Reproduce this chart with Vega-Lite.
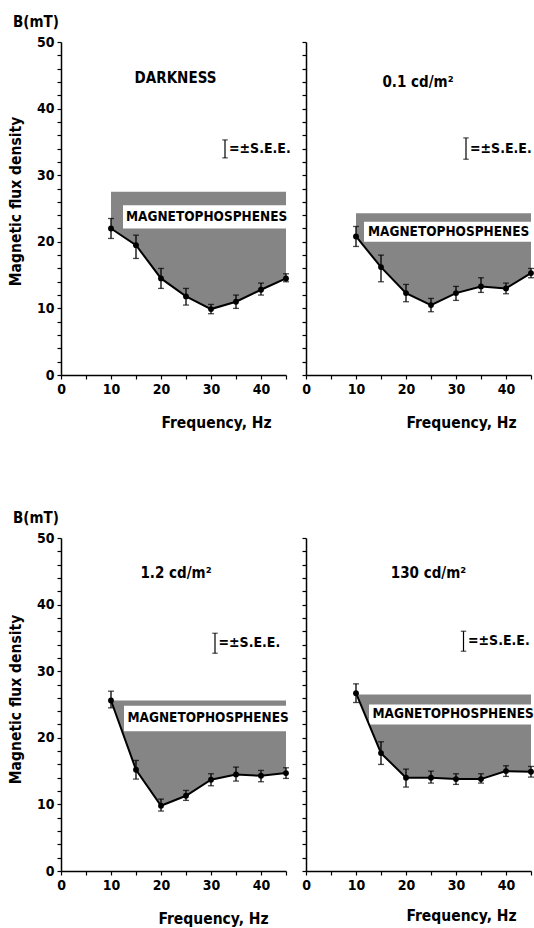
{
  "$schema": "https://vega.github.io/schema/vega-lite/v6.json",
  "background": "white",
  "padding": {"left": 8, "top": 15, "right": 0, "bottom": 0},
  "columns": 2,
  "spacing": {"row": 163, "column": 20},
  "bounds": "flush",
  "datasets": {
    "p1": [
      {"f": 10, "b": 22.0, "lo": 20.5, "hi": 23.5},
      {"f": 15, "b": 19.5, "lo": 17.5, "hi": 21.0},
      {"f": 20, "b": 14.5, "lo": 13.0, "hi": 16.0},
      {"f": 25, "b": 11.8, "lo": 10.5, "hi": 13.0},
      {"f": 30, "b": 9.9, "lo": 9.2, "hi": 10.6},
      {"f": 35, "b": 11.0, "lo": 10.0, "hi": 12.0},
      {"f": 40, "b": 12.8, "lo": 12.0, "hi": 13.8},
      {"f": 45, "b": 14.5, "lo": 14.0, "hi": 15.2}
    ],
    "p2": [
      {"f": 10, "b": 20.8, "lo": 19.3, "hi": 22.3},
      {"f": 15, "b": 16.2, "lo": 14.0, "hi": 18.0},
      {"f": 20, "b": 12.3, "lo": 11.0, "hi": 13.6},
      {"f": 25, "b": 10.5, "lo": 9.5, "hi": 11.5},
      {"f": 30, "b": 12.3, "lo": 11.2, "hi": 13.3},
      {"f": 35, "b": 13.3, "lo": 12.4, "hi": 14.6},
      {"f": 40, "b": 13.0, "lo": 12.2, "hi": 13.8},
      {"f": 45, "b": 15.3, "lo": 14.6, "hi": 16.0}
    ],
    "p3": [
      {"f": 10, "b": 25.6, "lo": 24.5, "hi": 27.0},
      {"f": 15, "b": 15.2, "lo": 13.8, "hi": 16.6},
      {"f": 20, "b": 9.8, "lo": 9.0, "hi": 10.8},
      {"f": 25, "b": 11.3, "lo": 10.6, "hi": 12.1},
      {"f": 30, "b": 13.7, "lo": 12.8, "hi": 14.6},
      {"f": 35, "b": 14.5, "lo": 13.5, "hi": 15.6},
      {"f": 40, "b": 14.3, "lo": 13.4, "hi": 15.1},
      {"f": 45, "b": 14.7, "lo": 13.9, "hi": 15.5}
    ],
    "p4": [
      {"f": 10, "b": 26.7, "lo": 25.3, "hi": 28.1},
      {"f": 15, "b": 17.7, "lo": 16.0, "hi": 19.4},
      {"f": 20, "b": 14.0, "lo": 12.6, "hi": 15.3},
      {"f": 25, "b": 14.0, "lo": 13.2, "hi": 15.0},
      {"f": 30, "b": 13.8, "lo": 13.0, "hi": 14.6},
      {"f": 35, "b": 13.8, "lo": 13.2, "hi": 14.6},
      {"f": 40, "b": 15.0, "lo": 14.2, "hi": 15.8},
      {"f": 45, "b": 14.9, "lo": 14.1, "hi": 15.7}
    ],
    "one": [{}]
  },
  "concat": [
    {
      "width": 225, "height": 333,
      "title": {"text": "B(mT)", "anchor": "start", "frame": "group", "dx": -48, "offset": 5},
      "data": {"name": "p1"},
      "resolve": {"axis": {"x": "independent", "y": "independent"}},
      "layer": [
        {"mark": {"type": "area", "color": "#858585", "opacity": 1},
         "encoding": {
           "x": {"field": "f", "type": "quantitative", "scale": {"domain": [0, 45], "nice": false},
                 "axis": {"values": [0,5,10,15,20,25,30,35,40,45], "labelExpr": "datum.value % 10 === 0 ? datum.label : ''", "title": "Frequency, Hz", "titleX": 155, "titlePadding": 19}},
           "y": {"field": "b", "type": "quantitative", "scale": {"domain": [0, 50], "nice": false},
                 "axis": {"values": [0,2,4,6,8,10,12,14,16,18,20,22,24,26,28,30,32,34,36,38,40,42,44,46,48,50], "labelExpr": "datum.value % 10 === 0 ? datum.label : ''", "title": "Magnetic flux density", "titlePadding": 13, "titleY": 159}},
           "y2": {"datum": 27.5}}},
        {"data": {"name": "one"}, "mark": {"type": "rect", "color": "white"},
         "encoding": {"x": {"datum": 12.4, "axis": null}, "x2": {"datum": 45}, "y": {"datum": 22, "axis": null}, "y2": {"datum": 25.5}}},
        {"data": {"name": "one"}, "mark": {"type": "text", "align": "left", "baseline": "middle", "fontSize": 13.5, "text": "MAGNETOPHOSPHENES"},
         "encoding": {"x": {"datum": 13, "axis": null}, "y": {"datum": 23.7, "axis": null}}},
        {"mark": {"type": "line", "color": "black", "strokeWidth": 2},
         "encoding": {"x": {"field": "f", "type": "quantitative", "axis": null}, "y": {"field": "b", "type": "quantitative", "axis": null}}},
        {"mark": {"type": "errorbar", "ticks": {"size": 6}, "color": "black", "thickness": 1.3},
         "encoding": {"x": {"field": "f", "type": "quantitative", "axis": null}, "y": {"field": "lo", "type": "quantitative", "axis": null}, "y2": {"field": "hi"}}},
        {"mark": {"type": "point", "filled": true, "color": "black", "size": 34, "opacity": 1},
         "encoding": {"x": {"field": "f", "type": "quantitative", "axis": null}, "y": {"field": "b", "type": "quantitative", "axis": null}}},
        {"data": {"name": "one"}, "mark": {"type": "text", "align": "center", "baseline": "middle", "fontSize": 15, "text": "DARKNESS"},
         "encoding": {"x": {"datum": 22.9, "axis": null}, "y": {"datum": 44.6, "axis": null}}},
        {"data": {"name": "one"}, "mark": {"type": "rule", "color": "black", "strokeWidth": 1.2},
         "encoding": {"x": {"datum": 32.8, "axis": null}, "y": {"datum": 32.6, "axis": null}, "y2": {"datum": 35.3}}},
        {"data": {"name": "one"}, "mark": {"type": "point", "shape": "M-1,0L1,0", "size": 30, "color": "black", "strokeWidth": 1.2},
         "encoding": {"x": {"datum": 32.8, "axis": null}, "y": {"datum": 32.6, "axis": null}}},
        {"data": {"name": "one"}, "mark": {"type": "point", "shape": "M-1,0L1,0", "size": 30, "color": "black", "strokeWidth": 1.2},
         "encoding": {"x": {"datum": 32.8, "axis": null}, "y": {"datum": 35.3, "axis": null}}},
        {"data": {"name": "one"}, "mark": {"type": "text", "align": "left", "baseline": "middle", "fontSize": 14, "text": "=±S.E.E."},
         "encoding": {"x": {"datum": 33.6, "axis": null}, "y": {"datum": 34, "axis": null}}}
      ]
    },
    {
      "width": 225, "height": 333,
      "data": {"name": "p2"},
      "resolve": {"axis": {"x": "independent", "y": "independent"}},
      "layer": [
        {"mark": {"type": "area", "color": "#858585", "opacity": 1},
         "encoding": {
           "x": {"field": "f", "type": "quantitative", "scale": {"domain": [0, 45], "nice": false},
                 "axis": {"values": [0,5,10,15,20,25,30,35,40,45], "labelExpr": "datum.value % 10 === 0 ? datum.label : ''", "title": "Frequency, Hz", "titleX": 155, "titlePadding": 19}},
           "y": {"field": "b", "type": "quantitative", "scale": {"domain": [0, 50], "nice": false},
                 "axis": {"values": [0,2,4,6,8,10,12,14,16,18,20,22,24,26,28,30,32,34,36,38,40,42,44,46,48,50], "labels": false, "title": null}},
           "y2": {"datum": 24.3}}},
        {"data": {"name": "one"}, "mark": {"type": "rect", "color": "white"},
         "encoding": {"x": {"datum": 11.6, "axis": null}, "x2": {"datum": 45}, "y": {"datum": 20, "axis": null}, "y2": {"datum": 23}}},
        {"data": {"name": "one"}, "mark": {"type": "text", "align": "left", "baseline": "middle", "fontSize": 13.5, "text": "MAGNETOPHOSPHENES"},
         "encoding": {"x": {"datum": 12.4, "axis": null}, "y": {"datum": 21.5, "axis": null}}},
        {"mark": {"type": "line", "color": "black", "strokeWidth": 2},
         "encoding": {"x": {"field": "f", "type": "quantitative", "axis": null}, "y": {"field": "b", "type": "quantitative", "axis": null}}},
        {"mark": {"type": "errorbar", "ticks": {"size": 6}, "color": "black", "thickness": 1.3},
         "encoding": {"x": {"field": "f", "type": "quantitative", "axis": null}, "y": {"field": "lo", "type": "quantitative", "axis": null}, "y2": {"field": "hi"}}},
        {"mark": {"type": "point", "filled": true, "color": "black", "size": 34, "opacity": 1},
         "encoding": {"x": {"field": "f", "type": "quantitative", "axis": null}, "y": {"field": "b", "type": "quantitative", "axis": null}}},
        {"data": {"name": "one"}, "mark": {"type": "text", "align": "center", "baseline": "middle", "fontSize": 15, "text": "0.1 cd/m²"},
         "encoding": {"x": {"datum": 22.4, "axis": null}, "y": {"datum": 44, "axis": null}}},
        {"data": {"name": "one"}, "mark": {"type": "rule", "color": "black", "strokeWidth": 1.2},
         "encoding": {"x": {"datum": 32, "axis": null}, "y": {"datum": 32.4, "axis": null}, "y2": {"datum": 35.6}}},
        {"data": {"name": "one"}, "mark": {"type": "point", "shape": "M-1,0L1,0", "size": 30, "color": "black", "strokeWidth": 1.2},
         "encoding": {"x": {"datum": 32, "axis": null}, "y": {"datum": 32.4, "axis": null}}},
        {"data": {"name": "one"}, "mark": {"type": "point", "shape": "M-1,0L1,0", "size": 30, "color": "black", "strokeWidth": 1.2},
         "encoding": {"x": {"datum": 32, "axis": null}, "y": {"datum": 35.6, "axis": null}}},
        {"data": {"name": "one"}, "mark": {"type": "text", "align": "left", "baseline": "middle", "fontSize": 14, "text": "=±S.E.E."},
         "encoding": {"x": {"datum": 32.8, "axis": null}, "y": {"datum": 34, "axis": null}}}
      ]
    },
    {
      "width": 225, "height": 333,
      "title": {"text": "B(mT)", "anchor": "start", "frame": "group", "dx": -48, "offset": 5},
      "data": {"name": "p3"},
      "resolve": {"axis": {"x": "independent", "y": "independent"}},
      "layer": [
        {"mark": {"type": "area", "color": "#858585", "opacity": 1},
         "encoding": {
           "x": {"field": "f", "type": "quantitative", "scale": {"domain": [0, 45], "nice": false},
                 "axis": {"values": [0,5,10,15,20,25,30,35,40,45], "labelExpr": "datum.value % 10 === 0 ? datum.label : ''", "title": "Frequency, Hz", "titleX": 152, "titlePadding": 19}},
           "y": {"field": "b", "type": "quantitative", "scale": {"domain": [0, 50], "nice": false},
                 "axis": {"values": [0,2,4,6,8,10,12,14,16,18,20,22,24,26,28,30,32,34,36,38,40,42,44,46,48,50], "labelExpr": "datum.value % 10 === 0 ? datum.label : ''", "title": "Magnetic flux density", "titlePadding": 13, "titleY": 161}},
           "y2": {"datum": 25.6}}},
        {"data": {"name": "one"}, "mark": {"type": "rect", "color": "white"},
         "encoding": {"x": {"datum": 12.6, "axis": null}, "x2": {"datum": 45}, "y": {"datum": 21, "axis": null}, "y2": {"datum": 24.8}}},
        {"data": {"name": "one"}, "mark": {"type": "text", "align": "left", "baseline": "middle", "fontSize": 13.5, "text": "MAGNETOPHOSPHENES"},
         "encoding": {"x": {"datum": 13.3, "axis": null}, "y": {"datum": 22.9, "axis": null}}},
        {"mark": {"type": "line", "color": "black", "strokeWidth": 2},
         "encoding": {"x": {"field": "f", "type": "quantitative", "axis": null}, "y": {"field": "b", "type": "quantitative", "axis": null}}},
        {"mark": {"type": "errorbar", "ticks": {"size": 6}, "color": "black", "thickness": 1.3},
         "encoding": {"x": {"field": "f", "type": "quantitative", "axis": null}, "y": {"field": "lo", "type": "quantitative", "axis": null}, "y2": {"field": "hi"}}},
        {"mark": {"type": "point", "filled": true, "color": "black", "size": 34, "opacity": 1},
         "encoding": {"x": {"field": "f", "type": "quantitative", "axis": null}, "y": {"field": "b", "type": "quantitative", "axis": null}}},
        {"data": {"name": "one"}, "mark": {"type": "text", "align": "center", "baseline": "middle", "fontSize": 15, "text": "1.2 cd/m²"},
         "encoding": {"x": {"datum": 23, "axis": null}, "y": {"datum": 44.7, "axis": null}}},
        {"data": {"name": "one"}, "mark": {"type": "rule", "color": "black", "strokeWidth": 1.2},
         "encoding": {"x": {"datum": 30.8, "axis": null}, "y": {"datum": 32.7, "axis": null}, "y2": {"datum": 35.7}}},
        {"data": {"name": "one"}, "mark": {"type": "point", "shape": "M-1,0L1,0", "size": 30, "color": "black", "strokeWidth": 1.2},
         "encoding": {"x": {"datum": 30.8, "axis": null}, "y": {"datum": 32.7, "axis": null}}},
        {"data": {"name": "one"}, "mark": {"type": "point", "shape": "M-1,0L1,0", "size": 30, "color": "black", "strokeWidth": 1.2},
         "encoding": {"x": {"datum": 30.8, "axis": null}, "y": {"datum": 35.7, "axis": null}}},
        {"data": {"name": "one"}, "mark": {"type": "text", "align": "left", "baseline": "middle", "fontSize": 14, "text": "=±S.E.E."},
         "encoding": {"x": {"datum": 31.5, "axis": null}, "y": {"datum": 34.2, "axis": null}}}
      ]
    },
    {
      "width": 225, "height": 333,
      "data": {"name": "p4"},
      "resolve": {"axis": {"x": "independent", "y": "independent"}},
      "layer": [
        {"mark": {"type": "area", "color": "#858585", "opacity": 1},
         "encoding": {
           "x": {"field": "f", "type": "quantitative", "scale": {"domain": [0, 45], "nice": false},
                 "axis": {"values": [0,5,10,15,20,25,30,35,40,45], "labelExpr": "datum.value % 10 === 0 ? datum.label : ''", "title": "Frequency, Hz", "titleX": 155, "titlePadding": 16}},
           "y": {"field": "b", "type": "quantitative", "scale": {"domain": [0, 50], "nice": false},
                 "axis": {"values": [0,2,4,6,8,10,12,14,16,18,20,22,24,26,28,30,32,34,36,38,40,42,44,46,48,50], "labels": false, "title": null}},
           "y2": {"datum": 26.5}}},
        {"data": {"name": "one"}, "mark": {"type": "rect", "color": "white"},
         "encoding": {"x": {"datum": 12.6, "axis": null}, "x2": {"datum": 45}, "y": {"datum": 22, "axis": null}, "y2": {"datum": 25}}},
        {"data": {"name": "one"}, "mark": {"type": "text", "align": "left", "baseline": "middle", "fontSize": 13.5, "text": "MAGNETOPHOSPHENES"},
         "encoding": {"x": {"datum": 13.3, "axis": null}, "y": {"datum": 23.6, "axis": null}}},
        {"mark": {"type": "line", "color": "black", "strokeWidth": 2},
         "encoding": {"x": {"field": "f", "type": "quantitative", "axis": null}, "y": {"field": "b", "type": "quantitative", "axis": null}}},
        {"mark": {"type": "errorbar", "ticks": {"size": 6}, "color": "black", "thickness": 1.3},
         "encoding": {"x": {"field": "f", "type": "quantitative", "axis": null}, "y": {"field": "lo", "type": "quantitative", "axis": null}, "y2": {"field": "hi"}}},
        {"mark": {"type": "point", "filled": true, "color": "black", "size": 34, "opacity": 1},
         "encoding": {"x": {"field": "f", "type": "quantitative", "axis": null}, "y": {"field": "b", "type": "quantitative", "axis": null}}},
        {"data": {"name": "one"}, "mark": {"type": "text", "align": "center", "baseline": "middle", "fontSize": 15, "text": "130 cd/m²"},
         "encoding": {"x": {"datum": 24.5, "axis": null}, "y": {"datum": 44.7, "axis": null}}},
        {"data": {"name": "one"}, "mark": {"type": "rule", "color": "black", "strokeWidth": 1.2},
         "encoding": {"x": {"datum": 31.5, "axis": null}, "y": {"datum": 33, "axis": null}, "y2": {"datum": 36}}},
        {"data": {"name": "one"}, "mark": {"type": "point", "shape": "M-1,0L1,0", "size": 30, "color": "black", "strokeWidth": 1.2},
         "encoding": {"x": {"datum": 31.5, "axis": null}, "y": {"datum": 33, "axis": null}}},
        {"data": {"name": "one"}, "mark": {"type": "point", "shape": "M-1,0L1,0", "size": 30, "color": "black", "strokeWidth": 1.2},
         "encoding": {"x": {"datum": 31.5, "axis": null}, "y": {"datum": 36, "axis": null}}},
        {"data": {"name": "one"}, "mark": {"type": "text", "align": "left", "baseline": "middle", "fontSize": 14, "text": "=±S.E.E."},
         "encoding": {"x": {"datum": 32.4, "axis": null}, "y": {"datum": 34.5, "axis": null}}}
      ]
    }
  ],
  "config": {
    "font": "DejaVu Sans Condensed, Liberation Sans, sans-serif",
    "view": {"stroke": null},
    "text": {"font": "DejaVu Sans Condensed, Liberation Sans, sans-serif", "fontWeight": "bold", "color": "black"},
    "title": {"font": "DejaVu Sans Condensed, Liberation Sans, sans-serif", "fontWeight": "bold", "fontSize": 15, "color": "black"},
    "axis": {
      "grid": false,
      "domainColor": "black", "domainWidth": 1.5,
      "tickColor": "black", "tickWidth": 1.2, "tickSize": 4,
      "labelFont": "DejaVu Sans Condensed, Liberation Sans, sans-serif", "labelFontWeight": "bold", "labelFontSize": 14, "labelColor": "black",
      "labelFlush": false, "labelOverlap": false, "labelPadding": 3,
      "titleFont": "DejaVu Sans Condensed, Liberation Sans, sans-serif", "titleFontWeight": "bold", "titleFontSize": 15.5, "titleColor": "black"
    }
  }
}
